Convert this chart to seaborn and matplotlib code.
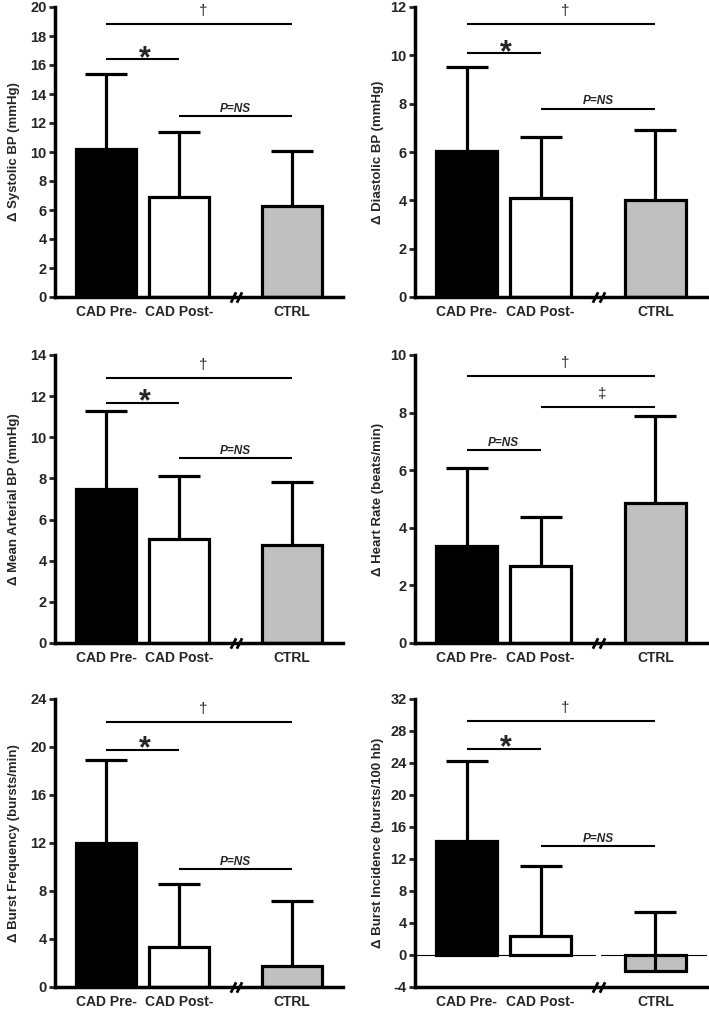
import matplotlib
matplotlib.use("Agg")
import matplotlib.pyplot as plt
import numpy as np
import pandas as pd
import seaborn as sns

sns.set_style("white")
plt.rcParams["font.family"] = ["Liberation Sans", "DejaVu Sans"]

GROUPS = ["CAD Pre-", "CAD Post-", "CTRL"]
BAR_COLORS = ["black", "white", "#c0c0c0"]
BAR_X = [0.0, 1.0, 2.55]
BREAK_X = 1.78
XLIM = (-0.7, 3.25)

# mean and SD of each change
sbp_mean = [10.2, 6.9, 6.25]
sbp_sd = [5.2, 4.45, 3.8]
dbp_mean = [6.06, 4.08, 4.02]
dbp_sd = [3.44, 2.54, 2.9]
map_mean = [7.47, 5.05, 4.78]
map_sd = [3.82, 3.07, 3.07]
hr_mean = [3.38, 2.67, 4.86]
hr_sd = [2.68, 1.69, 3.03]
bf_mean = [11.98, 3.33, 1.72]
bf_sd = [6.94, 5.27, 5.44]
bi_mean = [14.2, 2.37, -2.05]
bi_sd = [10.0, 8.73, 7.41]

# significance bars: (from group, to group, height, mark)
sbp_sig = [(0, 2, 18.8, "†"), (0, 1, 16.4, "*"), (1, 2, 12.5, "P=NS")]
dbp_sig = [(0, 2, 11.3, "†"), (0, 1, 10.08, "*"), (1, 2, 7.8, "P=NS")]
map_sig = [(0, 2, 12.9, "†"), (0, 1, 11.68, "*"), (1, 2, 9.0, "P=NS")]
hr_sig = [(0, 2, 9.27, "†"), (1, 2, 8.2, "‡"), (0, 1, 6.7, "P=NS")]
bf_sig = [(0, 2, 22.05, "†"), (0, 1, 19.75, "*"), (1, 2, 9.85, "P=NS")]
bi_sig = [(0, 2, 29.2, "†"), (0, 1, 25.8, "*"), (1, 2, 13.6, "P=NS")]

panels = [
    ("Δ Systolic BP (mmHg)", np.arange(0, 21, 2), sbp_mean, sbp_sd, sbp_sig),
    ("Δ Diastolic BP (mmHg)", np.arange(0, 13, 2), dbp_mean, dbp_sd, dbp_sig),
    ("Δ Mean Arterial BP (mmHg)", np.arange(0, 15, 2), map_mean, map_sd, map_sig),
    ("Δ Heart Rate (beats/min)", np.arange(0, 11, 2), hr_mean, hr_sd, hr_sig),
    ("Δ Burst Frequency (bursts/min)", np.arange(0, 25, 4), bf_mean, bf_sd, bf_sig),
    ("Δ Burst Incidence (bursts/100 hb)", np.arange(-4, 33, 4), bi_mean, bi_sd, bi_sig),
]

W, H = 709, 1014
COLS = [(55, 343), (415, 707)]
ROWS = [(7, 297), (355, 643), (699, 987)]
LABEL_RIGHT = [20, 384]


def sig_text(ax, x, y, mark):
    if mark == "*":
        ax.annotate(mark, (x, y), xytext=(1.5, -5.5), textcoords="offset points",
                    ha="center", va="baseline", fontsize=22, fontweight="bold")
    elif mark == "P=NS":
        ax.annotate(mark, (x, y), xytext=(0, 3), textcoords="offset points",
                    ha="center", va="baseline", fontsize=8.5,
                    fontweight="bold", fontstyle="italic")
    else:
        ax.annotate(mark, (x, y), xytext=(3, 6.5), textcoords="offset points",
                    ha="center", va="baseline", fontsize=11)


def draw_panel(ax, ylabel, yticks, mean, sd, sigs, col):
    df = pd.DataFrame({"x": BAR_X, "mean": mean})
    sns.barplot(data=df, x="x", y="mean", native_scale=True, width=0.82,
                color="white", edgecolor="black", linewidth=2.3,
                errorbar=None, ax=ax)
    bars = sorted(ax.patches, key=lambda p: p.get_x())
    for bar, c in zip(bars, BAR_COLORS):
        bar.set_facecolor(c)
        bar.set_zorder(2)

    eb = ax.errorbar(BAR_X, mean, yerr=[np.zeros(3), sd], fmt="none",
                     ecolor="black", elinewidth=2.3, capsize=15, capthick=2.3,
                     zorder=3)
    eb[1][0].set_visible(False)

    for i, j, y, mark in sigs:
        ax.plot([BAR_X[i], BAR_X[j]], [y, y], color="black", lw=1.5,
                clip_on=False, solid_capstyle="butt")
        sig_text(ax, (BAR_X[i] + BAR_X[j]) / 2, y, mark)

    ax.set_xlim(*XLIM)
    ax.set_ylim(yticks[0], yticks[-1])
    ax.set_yticks(yticks)
    ax.set_yticklabels([str(t) for t in yticks], fontweight="bold", fontsize=10.5)
    ax.set_xticks(BAR_X)
    ax.set_xticklabels(GROUPS, fontweight="bold", fontsize=10)
    ax.tick_params(axis="x", length=0, pad=6)
    ax.tick_params(axis="y", direction="out", length=4, width=2, pad=2, left=True)
    ax.set_xlabel("")
    ax.set_ylabel(ylabel, fontsize=9.5, fontweight="bold")

    if yticks[0] < 0:
        ax.plot([XLIM[0], BREAK_X - 0.04], [0, 0], color="black", lw=0.8, zorder=1)
        ax.plot([BREAK_X + 0.03, XLIM[1]], [0, 0], color="black", lw=0.8, zorder=1)

    sns.despine(ax=ax)
    for s in ("left", "bottom"):
        ax.spines[s].set_linewidth(2.5)
        ax.spines[s].set_color("black")

    # axis break on the x axis
    ax.plot([BREAK_X - 0.045, BREAK_X + 0.045], [0, 0],
            transform=ax.get_xaxis_transform(), marker=[(-0.5, -1), (0.5, 1)],
            markersize=7.5, mew=2, color="black", linestyle="none",
            clip_on=False, zorder=5)

    x0, x1 = COLS[col]
    ax.yaxis.set_label_coords((LABEL_RIGHT[col] - x0) / (x1 - x0), 0.5)


fig = plt.figure(figsize=(W / 100, H / 100), dpi=100)
for k, (ylabel, yticks, mean, sd, sigs) in enumerate(panels):
    row, col = divmod(k, 2)
    x0, x1 = COLS[col]
    top, bot = ROWS[row]
    ax = fig.add_axes([x0 / W, 1 - bot / H, (x1 - x0) / W, (bot - top) / H])
    draw_panel(ax, ylabel, yticks, mean, sd, sigs, col)

fig.savefig("out.png", dpi=100)
